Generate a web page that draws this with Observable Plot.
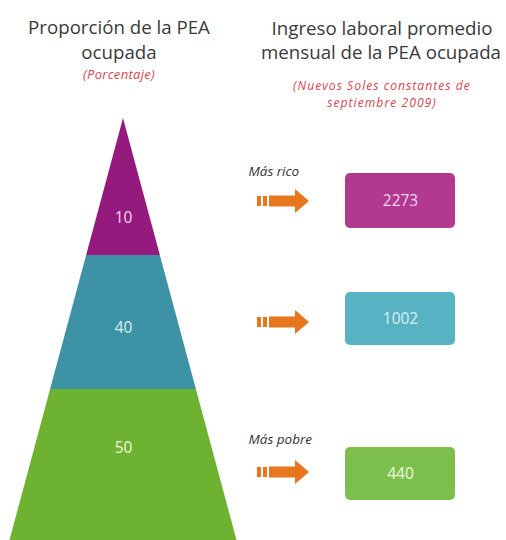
<!DOCTYPE html>
<html>
<head>
<meta charset="utf-8">
<script src="https://cdn.jsdelivr.net/npm/d3@7"></script>
<script src="https://cdn.jsdelivr.net/npm/@observablehq/plot@0.6"></script>
<style>
  html, body { margin: 0; padding: 0; background: #fff; }
  #wrap { width: 506px; height: 540px; overflow: hidden; font-family: "Open Sans", sans-serif; }
  #header { position: relative; width: 506px; height: 110px; }
  .t { position: absolute; white-space: nowrap; text-align: center; transform: translateX(-50%); line-height: 1; }
  .main { font-size: 18.7px; color: #3a3a3a; }
  .sub { font-size: 13px; color: #d9454f; font-style: italic; }
  .sub2 { font-size: 12.2px; letter-spacing: 1px; line-height: 16.8px; }
  .sub1 { letter-spacing: 0.3px; }
  svg { display: block; }
</style>
</head>
<body>
<div id="wrap">
  <div id="header">
    <div class="t main" style="left:119px; top:18px;">Proporción de la PEA</div>
    <div class="t main" style="left:119px; top:43px;">ocupada</div>
    <div class="t sub sub1" style="left:119px; top:68px;">(Porcentaje)</div>
    <div class="t main" style="left:382px; top:19px;">Ingreso laboral promedio</div>
    <div class="t main" style="left:381px; top:43px;">mensual de la PEA ocupada</div>
    <div class="t sub sub2" style="left:382px; top:78px;">(Nuevos Soles constantes de<br>septiembre 2009)</div>
  </div>
  <div id="chart"></div>
</div>
<script>
// ---- data ----
const tiers = ["Más rico", "Medio", "Más pobre"];
const tierNotes = ["Más rico", "", "Más pobre"];
const shares = [10, 40, 50];            // % de la PEA ocupada
const incomes = [2273, 1002, 440];      // Nuevos Soles constantes de sept. 2009
const pyramidColors = ["#941b7d", "#3e92a5", "#6db230"];
const boxColors = ["#b1398f", "#57b2c3", "#7dbf4c"];
const labelColors = ["#f4d6ee", "#d8f0f6", "#eef8dc"];
const arrowColor = "#e8761f";

// ---- layout (page pixel units) ----
const apexX = 123, apexY = 118, baseY = 540, baseHalf = 113.5;
const tierBounds = [118, 255, 389, 540];
const shareLabelY = [218, 328, 448];
const arrowY = [201, 322, 472];
const boxY = [[173, 228], [292, 345], [447, 500]];
const noteY = [171, 0, 439];
const halfW = y => baseHalf * (y - apexY) / (baseY - apexY);

const rows = tiers.map((t, i) => ({
  tier: t, note: tierNotes[i], share: shares[i], income: incomes[i],
  pc: pyramidColors[i], bc: boxColors[i], lc: labelColors[i],
  labelY: shareLabelY[i], ay: arrowY[i], by1: boxY[i][0], by2: boxY[i][1], ny: noteY[i]
}));

const pyramid = rows.flatMap((r, i) => [tierBounds[i], tierBounds[i + 1]].map(y => ({
  tier: r.tier, y, x1: apexX - halfW(y), x2: apexX + halfW(y), fill: r.pc
})));

const arrowParts = rows.flatMap(r => [
  {x1: 257, x2: 261, y1: r.ay - 5, y2: r.ay + 5},
  {x1: 263, x2: 267, y1: r.ay - 5, y2: r.ay + 5},
  {x1: 269, x2: 296, y1: r.ay - 5.5, y2: r.ay + 5.5}
]);
const arrowHeads = rows.flatMap(r => [
  {tier: r.tier, y: r.ay - 12, x1: 295, x2: 295},
  {tier: r.tier, y: r.ay, x1: 295, x2: 309},
  {tier: r.tier, y: r.ay + 12, x1: 295, x2: 295}
]);

const chart = Plot.plot({
  width: 506,
  height: 430,
  margin: 0,
  x: {domain: [0, 506], range: [0, 506], axis: null},
  y: {domain: [110, 540], range: [0, 430], axis: null},
  color: {type: "identity"},
  style: {fontFamily: "Open Sans, sans-serif", background: "#fff"},
  marks: [
    Plot.areaX(pyramid, {y: "y", x1: "x1", x2: "x2", z: "tier", fill: "fill", curve: "linear"}),
    Plot.text(rows, {x: apexX, y: "labelY", text: d => String(d.share), fill: "lc", fontSize: 15.5}),
    Plot.rect(arrowParts, {x1: "x1", x2: "x2", y1: "y1", y2: "y2", fill: arrowColor}),
    Plot.areaX(arrowHeads, {y: "y", x1: "x1", x2: "x2", z: "tier", fill: arrowColor, curve: "linear"}),
    Plot.text(rows.filter(d => d.note), {x: 248, y: "ny", text: "note", textAnchor: "start", fontStyle: "italic", fontSize: 13.5, fill: "#333"}),
    Plot.rect(rows, {x1: 345, x2: 455, y1: "by1", y2: "by2", fill: "bc", rx: 5}),
    Plot.text(rows, {x: 400, y: d => (d.by1 + d.by2) / 2, text: d => String(d.income), fill: "lc", fontSize: 15.5})
  ]
});
document.getElementById("chart").appendChild(chart);
</script>
</body>
</html>
